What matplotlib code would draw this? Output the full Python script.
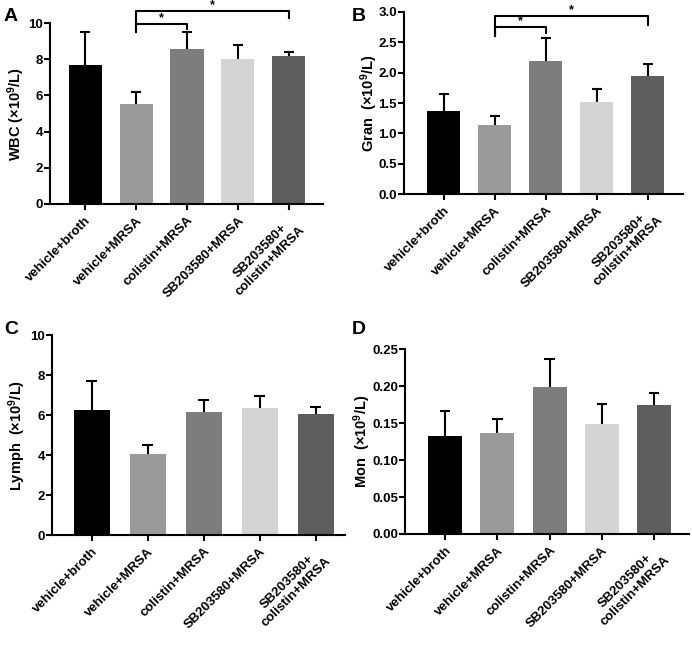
import matplotlib
matplotlib.use("Agg")
import matplotlib.pyplot as plt
import numpy as np

plt.rcParams['font.family'] = ['Liberation Sans', 'DejaVu Sans']
plt.rcParams['font.weight'] = 'bold'
plt.rcParams['mathtext.fontset'] = 'custom'
plt.rcParams['mathtext.rm'] = 'Liberation Sans:bold'
plt.rcParams['mathtext.bf'] = 'Liberation Sans:bold'
plt.rcParams['mathtext.default'] = 'rm'

groups = ["vehicle+broth", "vehicle+MRSA", "colistin+MRSA", "SB203580+MRSA", "SB203580+\ncolistin+MRSA"]
colors = ["#000000", "#9a9a9a", "#7d7d7d", "#d4d4d4", "#5e5e5e"]

wbc_mean = [7.7, 5.5, 8.55, 8.0, 8.2]
wbc_err = [1.8, 0.7, 0.95, 0.8, 0.2]
gran_mean = [1.36, 1.13, 2.19, 1.52, 1.95]
gran_err = [0.29, 0.16, 0.38, 0.21, 0.20]
lymph_mean = [6.24, 4.07, 6.14, 6.33, 6.04]
lymph_err = [1.44, 0.42, 0.60, 0.63, 0.34]
mon_mean = [0.132, 0.136, 0.199, 0.149, 0.174]
mon_err = [0.034, 0.019, 0.038, 0.027, 0.017]

panels = [
    dict(letter="A", mean=wbc_mean, err=wbc_err, ylabel=r"WBC (×10$^9$/L)", ylim=(0, 10), yticks=[0, 2, 4, 6, 8, 10],
         fmt="{:.0f}", rect=(50, 23, 323, 204), xlim=(-0.69, 4.67), letter_xy=(4, 21), ylab_x=16,
         brackets=[(1, 2, 9.95, 9.5, 9.65), (1, 4, 10.65, 9.5, 10.25)]),
    dict(letter="B", mean=gran_mean, err=gran_err, ylabel=r"Gran  (×10$^9$/L)", ylim=(0, 3), yticks=[0, 0.5, 1.0, 1.5, 2.0, 2.5, 3.0],
         fmt="{:.1f}", rect=(404, 12, 683, 194), xlim=(-0.78, 4.69), letter_xy=(352, 21), ylab_x=369,
         brackets=[(1, 2, 2.75, 2.61, 2.65), (1, 4, 2.93, 2.61, 2.79)]),
    dict(letter="C", mean=lymph_mean, err=lymph_err, ylabel=r"Lymph  (×10$^9$/L)", ylim=(0, 10), yticks=[0, 2, 4, 6, 8, 10],
         fmt="{:.0f}", rect=(52, 335, 345, 535), xlim=(-0.71, 4.52), letter_xy=(4, 334), ylab_x=17,
         brackets=[]),
    dict(letter="D", mean=mon_mean, err=mon_err, ylabel=r"Mon  (×10$^9$/L)", ylim=(0, 0.25), yticks=[0, 0.05, 0.10, 0.15, 0.20, 0.25],
         fmt="{:.2f}", rect=(405, 349, 689, 534), xlim=(-0.77, 4.67), letter_xy=(352, 334), ylab_x=362,
         brackets=[]),
]

W, H = 692, 647
fig = plt.figure(figsize=(W / 100, H / 100), dpi=100)

x = np.arange(len(groups))
for p in panels:
    l, t, r, b = p["rect"]
    ax = fig.add_axes([l / W, 1 - b / H, (r - l) / W, (b - t) / H])
    mean = np.array(p["mean"])
    err = np.array(p["err"])
    ax.bar(x, mean, width=0.65, color=colors, zorder=2)
    ax.vlines(x, mean, mean + err, color="black", lw=1.5, zorder=1)
    ax.hlines(mean + err, x - 0.1, x + 0.1, color="black", lw=1.5, zorder=1)
    ax.set_ylim(*p["ylim"])
    ax.set_xlim(*p["xlim"])
    ax.set_yticks(p["yticks"])
    ax.set_yticklabels([p["fmt"].format(v) for v in p["yticks"]], fontsize=9.5, fontweight="bold")
    ax.set_xticks(x)
    ax.set_xticklabels(groups, rotation=45, ha="right", rotation_mode="anchor", fontsize=9.5,
                       fontweight="bold", linespacing=1.15, multialignment="center")
    ax.set_ylabel(p["ylabel"], fontsize=10.5, fontweight="bold", va="center")
    ax.yaxis.set_label_coords((p["ylab_x"] - l) / (r - l), 0.5)
    for s in ["top", "right"]:
        ax.spines[s].set_visible(False)
    for s in ["left", "bottom"]:
        ax.spines[s].set_linewidth(1.5)
    ax.tick_params(width=1.5, length=4, direction="out")
    ax.tick_params(axis="y", pad=1)
    for (i, j, yb, yl, yr) in p["brackets"]:
        ax.plot([x[i], x[i], x[j], x[j]], [yl, yb, yb, yr], color="black", lw=1.5,
                clip_on=False, zorder=3)
        ax.text((x[i] + x[j]) / 2, yb, "*", ha="center", va="bottom", fontsize=9,
                fontweight="bold")
    fig.text(p["letter_xy"][0] / W, 1 - p["letter_xy"][1] / H, p["letter"], fontsize=14,
             fontweight="bold", ha="left", va="baseline")

fig.savefig("out.png", dpi=100)
